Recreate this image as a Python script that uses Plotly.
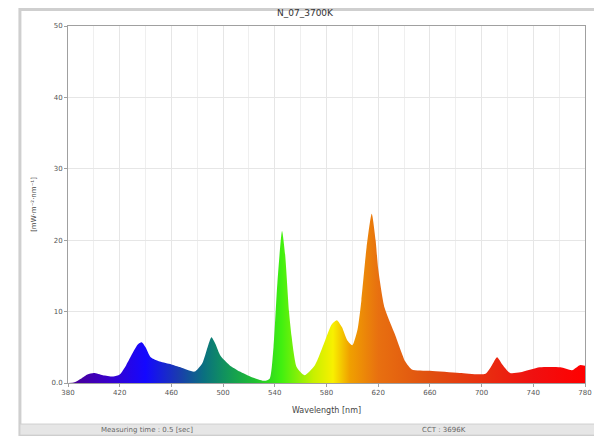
import plotly.graph_objects as go

title_text = "N_07_3700K"
x_title = "Wavelength [nm]"
y_title = "[mW·m⁻²·nm⁻¹]"

wavelength = [380, 385, 390, 395, 400, 407, 415, 420, 425, 430, 434, 437, 440, 444,
              451, 460, 467, 478, 484, 488, 491, 494, 498, 505, 513, 521, 532, 536,
              539, 542, 545.6, 548, 551, 553, 557, 563, 571, 579, 584, 588, 592, 596,
              600, 604, 607, 611, 615, 618, 620, 625, 633, 641, 646, 660, 683, 703,
              708, 712, 716, 722, 730, 745, 761, 770, 776, 780]
irradiance = [0.0, 0.1, 0.6, 1.2, 1.4, 1.1, 0.9, 1.2, 2.5, 4.2, 5.4, 5.7, 5.0, 3.6,
              3.0, 2.6, 2.2, 1.6, 2.8, 5.0, 6.4, 5.5, 3.8, 2.5, 1.6, 0.9, 0.3, 0.6,
              5.0, 14.0, 21.3, 18.0, 10.0, 6.5, 2.2, 1.1, 2.5, 6.0, 8.2, 8.8, 7.8, 6.0,
              5.3, 7.5, 11.6, 19.0, 23.7, 20.0, 16.0, 10.5, 6.8, 3.0, 1.9, 1.7, 1.4, 1.3,
              2.5, 3.6, 2.6, 1.4, 1.5, 2.2, 2.2, 1.8, 2.5, 2.4]

x_ticks = [380, 420, 460, 500, 540, 580, 620, 660, 700, 740, 780]
y_ticks = [0, 10, 20, 30, 40, 50]
y_ticklabels = ["0.0", "10", "20", "30", "40", "50"]

status_left = "Measuring time : 0.5 [sec]"
status_right = "CCT : 3696K"

# spectral colour stops (wavelength, colour)
spec_stops = [(380, "#4b0090"), (410, "#3a00c8"), (440, "#1408ff"), (465, "#1a3ab0"),
              (485, "#0a7080"), (500, "#109060"), (525, "#20c030"), (545, "#40f010"),
              (570, "#c8f000"), (585, "#f8f000"), (598, "#f0a000"), (620, "#e87010"),
              (660, "#e05010"), (700, "#e83010"), (740, "#f01010"), (780, "#ff0000")]
lo, hi = wavelength[0], wavelength[-1]
colorscale = [[(w - lo) / (hi - lo), c] for w, c in spec_stops]

fig = go.Figure()
fig.add_trace(go.Scatter(
    x=wavelength, y=irradiance, mode="lines", fill="tozeroy",
    line=dict(width=0, color="rgba(0,0,0,0)", shape="spline", smoothing=0.6),
    fillgradient=dict(type="horizontal", colorscale=colorscale),
    hoverinfo="skip", showlegend=False))

axis_common = dict(showline=True, linecolor="#a0a0a0", linewidth=1, mirror=True,
                   ticks="outside", ticklen=3, tickcolor="#a0a0a0",
                   tickfont=dict(family="DejaVu Sans", size=7, color="#555555"),
                   zeroline=False, automargin=False)

fig.update_xaxes(range=[380, 780], tickvals=x_ticks, showgrid=True,
                 gridcolor="#e6e6e6", gridwidth=1,
                 minor=dict(dtick=20, showgrid=True, gridcolor="#efefef"),
                 title=dict(text=x_title, font=dict(family="DejaVu Sans", size=8, color="#444444"),
                            standoff=10),
                 **axis_common)
fig.update_yaxes(range=[0, 50], tickvals=y_ticks, ticktext=y_ticklabels, showgrid=True,
                 gridcolor="#e6e6e6", gridwidth=1,
                 title=dict(text=y_title, font=dict(family="DejaVu Sans", size=7, color="#444444"),
                            standoff=14),
                 **axis_common)

# window frame and status bar (paper units: plot is 517 px wide, 357 px tall)
shapes = [
    dict(type="rect", xref="paper", yref="paper", x0=-0.093, x1=1.029, y0=-0.146, y1=1.046,
         line=dict(color="#cfcfcf", width=3), fillcolor="rgba(0,0,0,0)", layer="below"),
    dict(type="rect", xref="paper", yref="paper", x0=-0.093, x1=1.029, y0=-0.146, y1=-0.115,
         line=dict(color="#cfcfcf", width=1), fillcolor="#e6e6e6", layer="below"),
]
annotations = [
    dict(text=status_left, xref="paper", yref="paper", x=0.06, y=-0.131, showarrow=False,
         xanchor="left", yanchor="middle", font=dict(family="DejaVu Sans", size=7, color="#666666")),
    dict(text=status_right, xref="paper", yref="paper", x=0.68, y=-0.131, showarrow=False,
         xanchor="left", yanchor="middle", font=dict(family="DejaVu Sans", size=7, color="#666666")),
]

fig.update_layout(
    width=594, height=428,
    margin=dict(l=60, r=17, t=18, b=53, autoexpand=False),
    paper_bgcolor="white", plot_bgcolor="white",
    title=dict(text=title_text, x=0.5, xanchor="center", y=0.988, yanchor="middle",
               font=dict(family="DejaVu Sans", size=9, color="#333333"), automargin=False),
    shapes=shapes, annotations=annotations,
)

fig.write_html("out.html")
